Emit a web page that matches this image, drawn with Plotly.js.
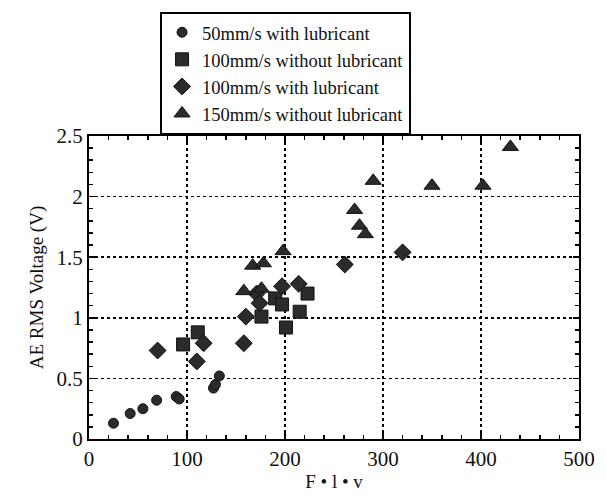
<!DOCTYPE html>
<html>
<head>
<meta charset="utf-8">
<script src="https://cdn.plot.ly/plotly-3.0.1.min.js"></script>
<style>html,body{margin:0;padding:0;background:#fff;}#chart{width:607px;height:497px;}</style>
</head>
<body>
<div id="chart"></div>
<script>
// Series: F·l·v (x) and AE RMS voltage (y)
var circX = [25, 42, 55, 69, 89, 92, 127, 129, 133];
var circY = [0.13, 0.21, 0.25, 0.32, 0.35, 0.33, 0.42, 0.45, 0.52];

var sqX = [96, 111, 176, 190, 197, 201, 215, 223];
var sqY = [0.78, 0.88, 1.01, 1.16, 1.11, 0.92, 1.05, 1.20];

var diaX = [70, 110, 117, 158, 160, 171, 174, 197, 214, 261, 320];
var diaY = [0.73, 0.64, 0.79, 0.79, 1.01, 1.20, 1.12, 1.26, 1.28, 1.44, 1.54];

var triX = [158, 167, 176, 178, 198, 271, 276, 282, 290, 350, 402, 430];
var triY = [1.22, 1.43, 1.24, 1.45, 1.55, 1.89, 1.76, 1.69, 2.13, 2.09, 2.09, 2.41];

var names = ["50mm/s with lubricant", "100mm/s without lubricant", "100mm/s with lubricant", "150mm/s without lubricant"];
var xTickVals = [0, 100, 200, 300, 400, 500];
var yTickVals = [0, 0.5, 1, 1.5, 2, 2.5];
var yTickText = ["0", "0.5", "1", "1.5", "2", "2.5"];

var fill = '#2b2b2b';
function tr(x, y, name, symbol, size) {
  return {x: x, y: y, name: name, type: 'scatter', mode: 'markers',
    marker: {symbol: symbol, size: size, color: fill, line: {color: '#111', width: 1}}};
}
var data = [
  tr(circX, circY, names[0], 'circle', 10),
  tr(sqX, sqY, names[1], 'square', 13),
  tr(diaX, diaY, names[2], 'diamond', 13),
  tr(triX, triY, names[3], 'triangle-up', 14)
];

function F(sz) { return {family: 'Liberation Serif', size: sz || 18, color: '#111'}; }
function axisCommon() {
  return {
    showline: true, linecolor: '#000', linewidth: 2, mirror: 'ticks',
    ticks: 'inside', ticklen: 6, tickwidth: 1.5, tickcolor: '#000',
    showgrid: true, gridcolor: '#000', gridwidth: 1.5, griddash: 'dot',
    zeroline: false, tickfont: F(21)
  };
}
var layout = {
  width: 607, height: 497,
  margin: {l: 89, r: 28, t: 133, b: 58},
  paper_bgcolor: '#fff', plot_bgcolor: '#fff',
  font: F(19),
  showlegend: true,
  legend: {x: 0.145, y: 1.41, xanchor: 'left', yanchor: 'top',
    bordercolor: '#000', borderwidth: 2, bgcolor: '#fff',
    font: F(18.5), itemwidth: 30, tracegroupgap: 0},
  xaxis: Object.assign(axisCommon(), {
    range: [0, 500], tickvals: xTickVals, ticktext: xTickVals.map(String),
    minor: {dtick: 20, ticks: 'inside', ticklen: 4, tickcolor: '#000', showgrid: false},
    title: {text: 'F • l • v', font: F(19), standoff: 4}
  }),
  yaxis: Object.assign(axisCommon(), {
    range: [0, 2.5], tickvals: yTickVals, ticktext: yTickText,
    minor: {dtick: 0.1, ticks: 'inside', ticklen: 4, tickcolor: '#000', showgrid: false},
    title: {text: 'AE RMS Voltage (V)', font: F(19), standoff: 8}
  })
};
Plotly.newPlot('chart', data, layout, {displayModeBar: false, staticPlot: true});
</script>
</body>
</html>
